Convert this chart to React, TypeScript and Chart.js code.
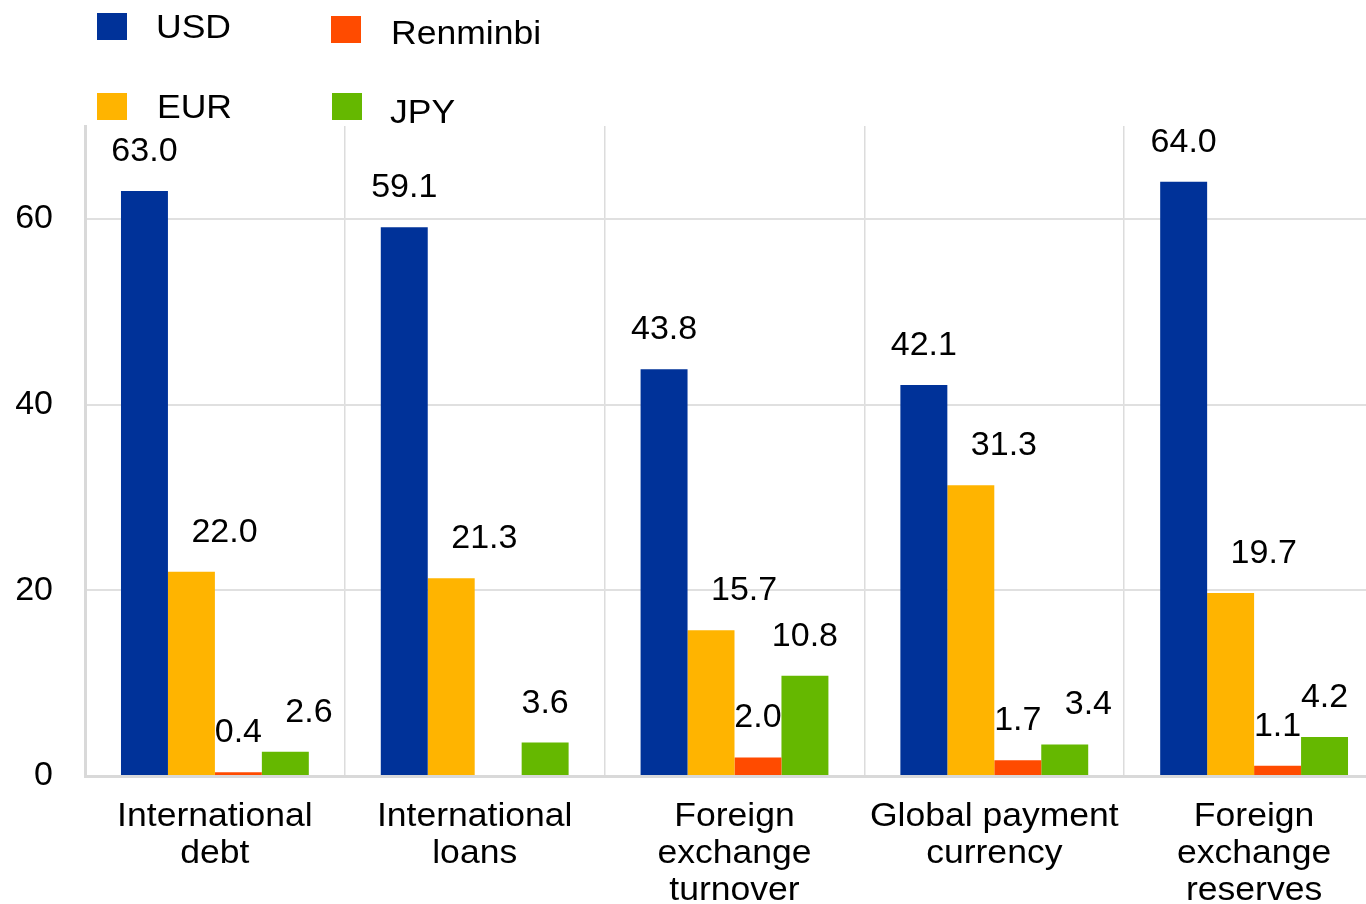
import { useEffect, useRef } from 'react';
import { Chart, registerables } from 'chart.js';

Chart.register(...registerables);

const categories: string[][] = [
  ['International', 'debt'],
  ['International', 'loans'],
  ['Foreign', 'exchange', 'turnover'],
  ['Global payment', 'currency'],
  ['Foreign', 'exchange', 'reserves'],
];
const seriesNames = ['USD', 'EUR', 'Renminbi', 'JPY'];
const usdValues = [63.0, 59.1, 43.8, 42.1, 64.0];
const eurValues = [22.0, 21.3, 15.7, 31.3, 19.7];
const renminbiValues: (number | null)[] = [0.4, null, 2.0, 1.7, 1.1];
const jpyValues = [2.6, 3.6, 10.8, 3.4, 4.2];
const yTickValues = [0, 20, 40, 60];
const yMax = 70;
const seriesColors = ['#003299', '#FFB400', '#FF4B00', '#65B800'];

const FONT_FAMILY = '"Liberation Sans", Arial, Helvetica, sans-serif';
const FONT_SIZE = 34;
const TEXT_STRETCH = 1.045;

const textStretchPlugin = {
  id: 'textStretch',
  beforeInit(chart: any) {
    const ctx = chart.ctx;
    const orig = ctx.fillText;
    ctx.fillText = function (text: any, x: number, y: number, maxWidth?: number) {
      const sx = /[A-Za-z]/.test(String(text)) ? TEXT_STRETCH : 1;
      if (sx === 1) {
        if (maxWidth === undefined) return orig.call(this, text, x, y);
        return orig.call(this, text, x, y, maxWidth);
      }
      this.save();
      this.translate(x, y);
      this.scale(sx, 1);
      if (maxWidth === undefined) orig.call(this, text, 0, 0);
      else orig.call(this, text, 0, 0, maxWidth / sx);
      this.restore();
    };
  },
};

const valueLabelPlugin = {
  id: 'valueLabels',
  afterDatasetsDraw(chart: any) {
    const ctx = chart.ctx;
    ctx.save();
    ctx.font = `${FONT_SIZE}px ${FONT_FAMILY}`;
    ctx.fillStyle = '#000';
    ctx.textBaseline = 'alphabetic';
    ctx.textAlign = 'left';
    const capH = 24;
    const n = chart.data.labels.length;
    for (let i = 0; i < n; i++) {
      let prevBox: any = null;
      let prevBar: any = null;
      chart.data.datasets.forEach((ds: any, d: number) => {
        const v = ds.data[i];
        const el = chart.getDatasetMeta(d).data[i];
        if (v == null || !el) {
          prevBar = null;
          return;
        }
        const text = Number(v).toFixed(1);
        const w = ctx.measureText(text).width;
        const baseline = el.y - 30;
        let left = el.x - w / 2;
        const box = { l: left, r: left + w, t: baseline - capH, b: baseline };
        let conflict = false;
        if (prevBar && prevBar.top < box.b && prevBar.right > box.l + 0.5) conflict = true;
        if (
          prevBox &&
          box.l < prevBox.r + 4 &&
          box.r > prevBox.l &&
          box.t < prevBox.b &&
          box.b > prevBox.t
        )
          conflict = true;
        if (conflict) {
          left = el.x;
          box.l = left;
          box.r = left + w;
        }
        ctx.fillText(text, left, baseline);
        prevBox = box;
        prevBar = { top: el.y, right: el.x + el.width / 2 };
      });
    }
    ctx.restore();
  },
};

// legend grid: dataset order USD, EUR, Renminbi, JPY -> column-major 2x2
const legendSquareX = [97, 97, 331, 332];
const legendSquareY = [13, 93, 16, 93];
const legendTextX = [156, 157, 391, 390];
const legendTextBaseline = [38, 118, 44, 123];

const legendPlugin = {
  id: 'gridLegend',
  afterDraw(chart: any) {
    const ctx = chart.ctx;
    ctx.save();
    ctx.font = `${FONT_SIZE}px ${FONT_FAMILY}`;
    ctx.textBaseline = 'alphabetic';
    ctx.textAlign = 'left';
    chart.data.datasets.forEach((ds: any, d: number) => {
      ctx.fillStyle = ds.backgroundColor;
      ctx.fillRect(legendSquareX[d], legendSquareY[d], 30, 27);
      ctx.fillStyle = '#000';
      ctx.fillText(ds.label, legendTextX[d], legendTextBaseline[d]);
    });
    ctx.restore();
  },
};

export default function App() {
  const canvasRef = useRef<HTMLCanvasElement | null>(null);

  useEffect(() => {
    if (!canvasRef.current) return;
    const seriesData = [usdValues, eurValues, renminbiValues, jpyValues];
    const chart = new Chart(canvasRef.current, {
      type: 'bar',
      data: {
        labels: categories,
        datasets: seriesNames.map((name, k) => ({
          label: name,
          data: seriesData[k],
          backgroundColor: seriesColors[k],
          borderWidth: 0,
          categoryPercentage: 0.723,
          barPercentage: 1,
        })),
      },
      options: {
        animation: false,
        responsive: true,
        maintainAspectRatio: false,
        layout: { padding: { top: 126, left: 0, right: 0, bottom: 0 } },
        plugins: {
          legend: { display: false },
          tooltip: { enabled: false },
        },
        scales: {
          x: {
            grid: { color: '#dcdcdc', lineWidth: 1.5, drawTicks: false, offset: true },
            border: { color: '#d9d9d9', width: 3 },
            ticks: {
              color: '#000',
              font: { size: FONT_SIZE, family: FONT_FAMILY, lineHeight: 1.09 },
              padding: 22,
              maxRotation: 0,
              autoSkip: false,
            },
            afterFit: (scale: any) => {
              scale.height = 128;
            },
          },
          y: {
            min: 0,
            max: yMax,
            grid: { color: '#e0e0e0', lineWidth: 2, drawTicks: false },
            border: { color: '#d9d9d9', width: 3 },
            ticks: {
              stepSize: 20,
              color: '#000',
              font: { size: FONT_SIZE, family: FONT_FAMILY },
              padding: 32,
            },
            afterBuildTicks: (scale: any) => {
              scale.ticks = yTickValues.map((v) => ({ value: v }));
            },
            afterFit: (scale: any) => {
              scale.width = 85;
            },
          },
        },
      },
      plugins: [textStretchPlugin, valueLabelPlugin, legendPlugin],
    });
    return () => chart.destroy();
  }, []);

  return (
    <div
      style={{
        position: 'fixed',
        left: 0,
        top: 0,
        width: 1366,
        height: 904,
        overflow: 'hidden',
        background: '#fff',
      }}
    >
      <div style={{ position: 'relative', width: 1384, height: 904 }}>
        <canvas ref={canvasRef} />
      </div>
    </div>
  );
}
